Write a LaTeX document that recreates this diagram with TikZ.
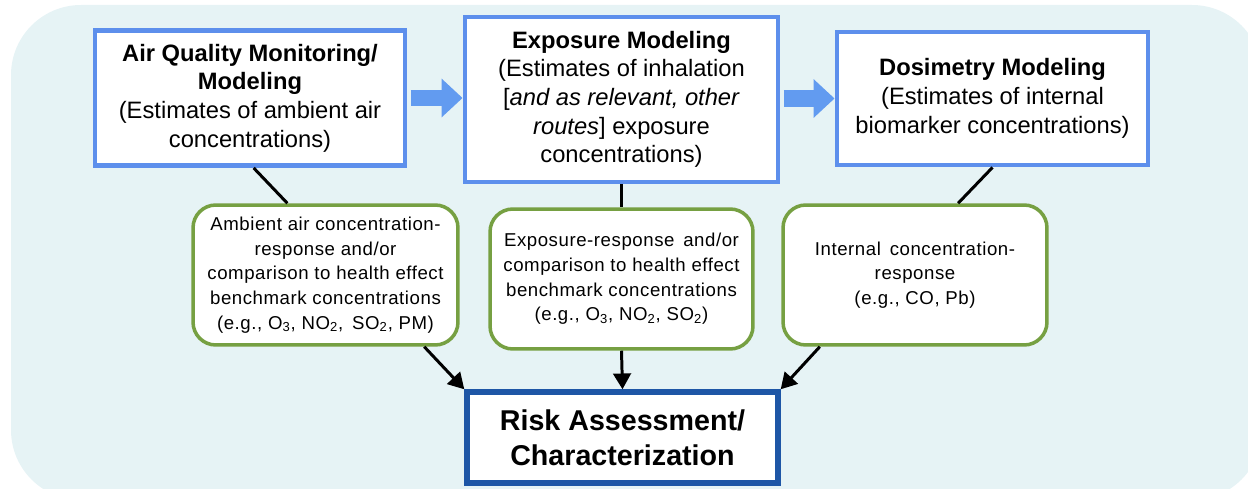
\documentclass[tikz,border=0pt]{standalone}
\usepackage{fontspec}
\setmainfont{Liberation Sans}
\newfontfamily\respfont[LetterSpace=3]{Liberation Sans}
\definecolor{fondo}{RGB}{230, 243, 245}
\definecolor{azulCaja}{RGB}{93, 143, 236}
\definecolor{azulFlecha}{RGB}{98, 155, 240}
\definecolor{azulRiesgo}{RGB}{30, 86, 166}
\definecolor{verde}{RGB}{118, 160, 66}
\usetikzlibrary{arrows.meta,calc,positioning}
\tikzstyle{modelbox}=[rectangle, draw=azulCaja, fill=white,
                    line width=2.8pt, align=center, inner sep=2pt,
                    font=\fontsize{13.5}{16.3}\selectfont]
\tikzstyle{respbox}=[rectangle, rounded corners=13pt, draw=verde,
                    fill=white, line width=2pt, align=center,
                    minimum width=5.3cm, minimum height=2.8cm,
                    font=\fontsize{10.6}{14}\respfont]
\tikzstyle{riskbox}=[rectangle, draw=azulRiesgo, fill=white,
                    line width=3.1pt, align=center,
                    minimum width=6.22cm, minimum height=1.82cm,
                    font=\fontsize{16.3}{20}\selectfont\bfseries]
\tikzstyle{link}  =[line width=1.7pt, black]
\tikzstyle{wlink} =[line width=1.7pt, black,
                    -{Triangle[length=9pt,width=10pt]}]
\tikzstyle{flow}  =[line width=9.5pt, azulFlecha, shorten <=2pt,
                    -{Triangle[length=0.42cm,width=0.75cm]}]

\begin{document}
\begin{tikzpicture}[x=0.02cm,y=-0.02cm]

    \useasboundingbox (0,0) rectangle (1248,489);
    \fill[fondo,rounded corners=1.4cm] (11,5) rectangle (1262,500);

    % modelling steps
    \draw (250,98) node (aq) [modelbox,minimum width=6.2cm,minimum height=2.7cm]
        {\textbf{Air Quality Monitoring/}\\\textbf{Modeling}\\(Estimates of ambient air\\concentrations)};
    \draw (621.5,99.5) node (ex) [modelbox,minimum width=6.26cm,minimum height=3.3cm]
        {\textbf{Exposure Modeling}\\(Estimates of inhalation\\{[}\textit{and as relevant, other}\\\textit{routes}{]} exposure\\concentrations)};
    \draw (992.5,98.5) node (ds) [modelbox,minimum width=6.22cm,minimum height=2.66cm]
        {\textbf{Dosimetry Modeling}\\(Estimates of internal\\biomarker concentrations)};

    % response relations
    \draw (325.5,275) node (g1) [respbox]
        {Ambient air concentration-\\response and/or\\comparison to health effect\\benchmark concentrations\\(e.g., O\textsubscript{3}, NO\textsubscript{2},\, SO\textsubscript{2}, PM)};
    \draw (621.5,279) node (g2) [respbox,minimum width=5.26cm]
        {Exposure-response\, and/or\\comparison to health effect\\benchmark concentrations\\(e.g., O\textsubscript{3}, NO\textsubscript{2}, SO\textsubscript{2})};
    \draw (915,275) node (g3) [respbox,minimum width=5.28cm]
        {Internal\, concentration-\\response\\(e.g., CO, Pb)};

    \draw (622.5,437.5) node (rk) [riskbox] {Risk Assessment/\\Characterization};

    \draw [flow] (aq.east) -- (aq.east -| ex.west);
    \draw [flow] (ex.east |- ds.east) -- (ds.west);

    \foreach \i/\j in {aq.-87/g1.118,ex.south/g2.north,ds.south/g3.59}
        \draw [link] (\i) -- (\j);

    \foreach \i/\j in {g1.-36/rk.north west,g2.south/rk.north,g3.-143/rk.north east}
        \draw [wlink] (\i) -- (\j);

\end{tikzpicture}
\end{document}
